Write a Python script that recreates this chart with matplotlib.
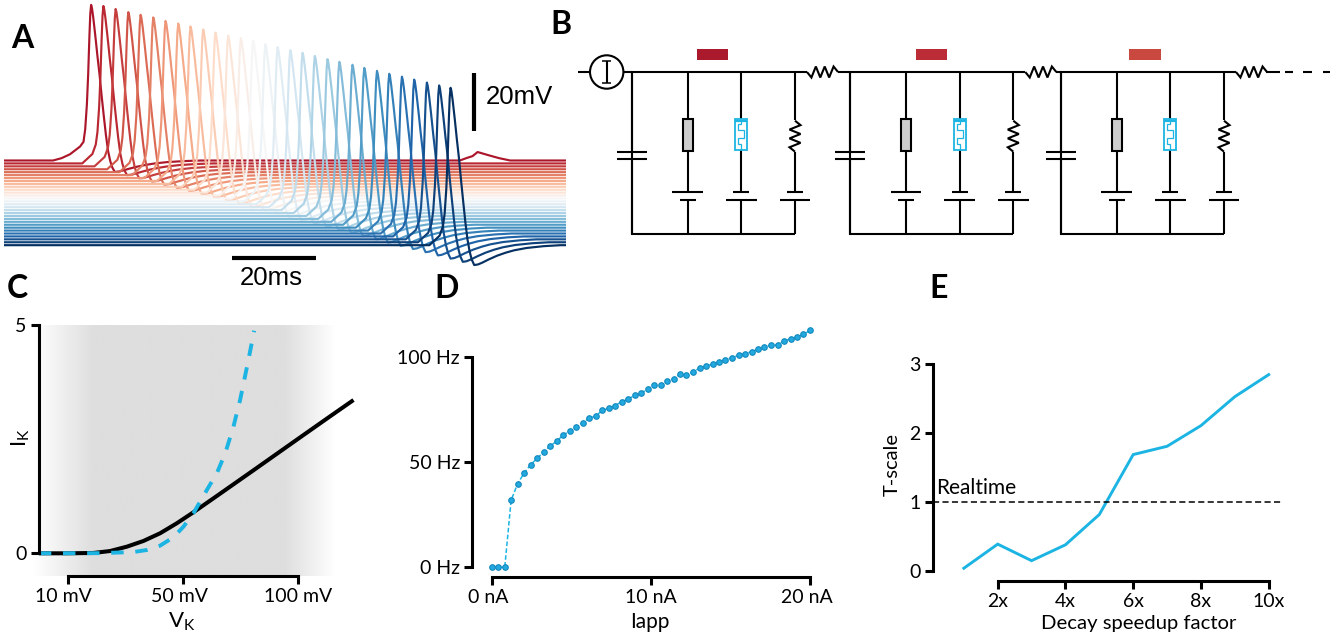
#!/usr/bin/env python3
"""Neuron model figure: spike raster traces, cable circuit, I-V, f-I and speedup panels."""

import numpy as np
import matplotlib
matplotlib.use("Agg")
import matplotlib.pyplot as plt
from matplotlib.colors import LinearSegmentedColormap
from matplotlib.patches import Circle, Rectangle
from matplotlib.transforms import ScaledTranslation

plt.rcParams['font.family'] = ['Lato', 'DejaVu Sans']
plt.rcParams['mathtext.default'] = 'regular'

W, H = 1333, 638
BLUE = '#1cb4e3'
T_END = 132.9

# Panel A: spike time (ms), peak (mV) and resting level (mV) of each trace
spike_times = [20.6, 23.5, 26.4, 29.4, 32.3, 35.3, 38.2, 41.2, 44.1, 47.1,
               50.0, 53.0, 56.0, 58.9, 61.8, 64.7, 67.7, 70.6, 73.5, 76.5,
               79.3, 82.4, 85.2, 88.2, 91.1, 94.1, 97.0, 100.0, 102.9, 105.6]
spike_peaks = [53.3, 52.9, 51.9, 50.8, 49.9, 49.0, 47.8, 46.9, 45.9, 44.9,
               43.8, 42.8, 41.9, 41.0, 39.8, 38.8, 37.8, 36.9, 35.8, 34.7,
               33.8, 32.8, 31.7, 30.7, 29.7, 28.7, 27.7, 26.7, 25.7, 24.9]
rest_levels = [0, -1, -2, -3, -4, -5, -6, -7, -8, -9,
               -10, -11, -12, -13, -14, -15, -16, -17, -18, -19,
               -20, -21, -22, -23, -24, -25, -26, -27, -28, -29]
ahp_depths = [3.9, 4.0, 4.1, 4.2, 4.3, 4.4, 4.5, 4.6, 4.7, 4.8,
              4.9, 5.0, 5.1, 5.2, 5.3, 5.4, 5.5, 5.6, 5.7, 5.8,
              5.9, 6.0, 6.1, 6.2, 6.3, 6.4, 6.5, 6.6, 6.7, 6.8]

# spike shape: time from peak, upstroke/downstroke, afterhyperpolarisation
shape_dt = [-9, -7, -5, -2.6, -1.8, -1.4, -1.0, -0.7, -0.4, -0.2, 0, 0.2, 0.5, 1, 1.5, 2,
            2.5, 3, 3.5, 4, 4.5, 5, 5.6, 6.5, 7.5, 9, 11, 13, 15, 18, 22, 26]
shape_spike = [0, 0, 0, 0.06, 0.12, 0.2, 0.36, 0.55, 0.8, 0.94, 1, 0.98, 0.92, 0.8, 0.67, 0.55,
               0.42, 0.3, 0.19, 0.1, 0.05, 0.02, 0, 0, 0, 0, 0, 0, 0, 0, 0, 0]
shape_ahp = [0, 0, 0, 0, 0, 0, 0, 0, 0, 0, 0, 0, 0, 0, 0, 0,
             0.1, 0.2, 0.35, 0.5, 0.7, 0.88, 1, 0.97, 0.88, 0.72, 0.53, 0.38, 0.26, 0.14, 0.05, 0]
slow_foot = [0, 0.015, 0.04, 0.03, 0, 0, 0, 0, 0, 0, 0, 0, 0, 0, 0, 0,
             0, 0, 0, 0, 0, 0, 0, 0, 0, 0, 0, 0, 0, 0, 0, 0]

# small second bump on the first trace
bump_times = [107.8, 109.5, 110.8, 112.0, 114.6, 117.1, 119.7]
bump_values = [0, 0.9, 1.5, 2.9, 1.8, 0.8, 0]

# Panel B
unit_x = [631.7, 850.0, 1060.7]
bar_x = [696.7, 916.0, 1129.3]
bar_colors = ['#ab1a2c', '#bb2c36', '#c9483f']

# Panel C
vk_ticks = [0, 1, 2]
vk_tick_labels = ['10 mV', '50 mV', '100 mV']
ik_ticks = [0, 5]
linear_x = [-0.25, -0.01, 0.222, 0.367, 0.512, 0.656, 0.80, 0.945, 1.089, 1.263, 1.436, 1.639,
            1.813, 2.015, 2.246, 2.477]
linear_y = [0, 0, 0.007, 0.05, 0.145, 0.27, 0.438, 0.657, 0.898, 1.204, 1.51, 1.87,
            2.18, 2.54, 2.95, 3.357]
steep_x = [-0.25, 0.28, 0.569, 0.685, 0.80, 0.916, 1.003, 1.089, 1.206, 1.292, 1.365, 1.436, 1.494,
           1.566, 1.616]
steep_y = [0, 0.003, 0.028, 0.072, 0.167, 0.35, 0.583, 0.876, 1.387, 1.75, 2.19, 2.77, 3.358,
           4.234, 4.875]

# Panel D
iapp = [0, 0.41, 0.82, 1.22, 1.63, 2.04, 2.45, 2.86, 3.27, 3.67,
        4.08, 4.49, 4.9, 5.31, 5.71, 6.12, 6.53, 6.94, 7.35, 7.76,
        8.16, 8.57, 8.98, 9.39, 9.8, 10.2, 10.61, 11.02, 11.43, 11.84,
        12.24, 12.65, 13.06, 13.47, 13.88, 14.29, 14.69, 15.1, 15.51, 15.92,
        16.33, 16.73, 17.14, 17.55, 17.96, 18.37, 18.78, 19.18, 19.59, 20]
rate = [0, 0, 0, 31.9, 39.8, 44.9, 48.9, 51.9, 54.9, 57.8,
        60, 63, 64.9, 66.8, 68.9, 70.9, 72, 74.7, 75.7, 77,
        78.9, 80, 81.9, 83, 84.8, 86.8, 86.8, 88.9, 89.8, 91.9,
        91.7, 92.9, 94.9, 95.7, 96.8, 97.9, 98.9, 99.8, 100.9, 101.8,
        102.6, 103.9, 105, 105.8, 105.8, 107.9, 108.7, 109.8, 110.9, 112.8]

# Panel E
speedup = [1, 2, 3, 4, 5, 6, 7, 8, 9, 10]
tscale = [0.04, 0.39, 0.15, 0.38, 0.82, 1.69, 1.81, 2.11, 2.53, 2.85]


def px_axes(fig, left, top, right, bottom):
    """Axes placed by pixel edges of the figure."""
    ax = fig.add_axes([left / W, 1 - bottom / H, (right - left) / W, (bottom - top) / H])
    ax.patch.set_alpha(0)
    return ax


def style_axis(ax, y_bounds, x_bounds, lw=2.2, length=5.8):
    ax.spines['top'].set_visible(False)
    ax.spines['right'].set_visible(False)
    ax.spines['left'].set_linewidth(lw)
    ax.spines['bottom'].set_linewidth(lw)
    ax.spines['left'].set_bounds(*y_bounds)
    ax.spines['bottom'].set_bounds(*x_bounds)
    ax.tick_params(width=lw, length=length, labelsize=14, pad=3)


def shift_labels(labels, dx_px):
    """Nudge tick labels sideways, the originals are not quite centred on the ticks."""
    for label, dx in zip(labels, dx_px):
        label.set_transform(label.get_transform() + ScaledTranslation(dx / 100, 0, plt.gcf().dpi_scale_trans))


def draw_traces(ax):
    colors = plt.cm.RdBu(np.linspace(0.09, 1, len(spike_times)))
    dt = np.array(shape_dt)
    spike = np.array(shape_spike)
    ahp = np.array(shape_ahp)
    foot = np.array(slow_foot)
    for i, t0 in enumerate(spike_times):
        base = rest_levels[i]
        amp = spike_peaks[i] - base
        shape = spike + foot if i == 0 else spike
        v = base + amp * shape - ahp_depths[i] * ahp
        t = np.concatenate([[0], t0 + dt, [T_END]])
        v = np.concatenate([[base], v, [base]])
        if i == 0:
            t = np.concatenate([t[:-1], bump_times, [T_END]])
            v = np.concatenate([v[:-1], np.array(bump_values) + base, [base]])
        ax.plot(t, v, color=colors[i], lw=1.55, solid_joinstyle='round')

    # scale bars
    ax.plot([53.8, 73.8], [-33.5, -33.5], color='k', lw=3, solid_capstyle='butt')
    ax.plot([111.1, 111.1], [10, 30], color='k', lw=3, solid_capstyle='butt')


def wire(ax, xs, ys, color='k', lw=1.5, **kwargs):
    ax.plot(xs, ys, color=color, lw=lw, solid_capstyle='butt', solid_joinstyle='miter', **kwargs)


def h_resistor(ax, x0, y):
    step = 31 / 7
    xs = [x0 + k * step for k in range(8)]
    ys = [y, y + 5.5, y - 5.5, y + 5.5, y - 5.5, y + 5.5, y - 5.5, y]
    wire(ax, xs, ys)


def draw_unit(ax, x0, offsets=(56.0, 109.6, 163.3)):
    """One compartment of the cable: capacitor and three conductance branches."""
    top, bottom = 72, 234.3
    gray_x, blue_x, res_x = x0 + offsets[0], x0 + offsets[1], x0 + offsets[2]
    wire(ax, [res_x, x0, x0, res_x, res_x], [top, top, bottom, bottom, bottom])

    # capacitor
    wire(ax, [x0, x0], [top, 151.7])
    wire(ax, [x0, x0], [159.3, bottom])
    wire(ax, [x0 - 15, x0 + 15], [151.7, 151.7])
    wire(ax, [x0 - 15, x0 + 15], [159.3, 159.3])

    # branches and their batteries
    for x, long_first in [(gray_x, True), (blue_x, False), (res_x, False)]:
        wire(ax, [x, x], [top, 192.3])
        wire(ax, [x, x], [200.3, bottom])
        hw_top, hw_bot = (15.3, 8) if long_first else (8, 15.3)
        wire(ax, [x - hw_top, x + hw_top], [192.3, 192.3])
        wire(ax, [x - hw_bot, x + hw_bot], [200.3, 200.3])

    ax.add_patch(Rectangle((gray_x - 5.2, 119.3), 10.4, 31.4, facecolor='#cdcdcd', edgecolor='k', lw=1.5, zorder=3))

    ax.add_patch(Rectangle((blue_x - 6, 119.3), 12, 31, facecolor='white', edgecolor=BLUE, lw=1.3, zorder=3))
    wire(ax, [blue_x - 6, blue_x + 6], [120.5, 120.5], color=BLUE, lw=1.6, zorder=4)
    wire(ax, [blue_x, blue_x, blue_x - 3, blue_x - 3, blue_x + 3, blue_x + 3, blue_x - 3, blue_x - 3, blue_x, blue_x],
         [120, 124, 124, 130, 130, 138, 138, 144, 144, 150], color=BLUE, lw=0.9, zorder=4)

    ax.add_patch(Rectangle((res_x - 7, 120), 14, 32, facecolor='white', edgecolor='none', zorder=3))
    ys = [120.7 + k * 31 / 7 for k in range(8)]
    xs = [res_x, res_x + 5.5, res_x - 5.5, res_x + 5.5, res_x - 5.5, res_x + 5.5, res_x - 5.5, res_x]
    wire(ax, xs, ys, zorder=4)


def draw_circuit(ax):
    y = 72
    # current source
    wire(ax, [578, 590], [y, y])
    ax.add_patch(Circle((606.7, y), 16.7, facecolor='white', edgecolor='k', lw=1.5, zorder=3))
    wire(ax, [606.7, 606.7], [61, 83], zorder=4)
    wire(ax, [602, 611.4], [61, 61], lw=1.1, zorder=4)
    wire(ax, [602, 611.4], [83, 83], lw=1.1, zorder=4)
    wire(ax, [623.4, 631.7], [y, y])

    for x0, bx, color in zip(unit_x, bar_x, bar_colors):
        draw_unit(ax, x0)
        ax.add_patch(Rectangle((bx, 49.3), 31.3, 10.4, facecolor=color, edgecolor='none'))
        res_x = x0 + 163.3
        wire(ax, [res_x, res_x + 12], [y, y])
        h_resistor(ax, res_x + 12, y)

    # links between compartments and the open end
    wire(ax, [838, 850], [y, y])
    wire(ax, [1056, 1060.7], [y, y])
    wire(ax, [1266, 1280], [y, y])
    for a, b in [(1285, 1293), (1303, 1312), (1323, 1330)]:
        wire(ax, [a, b], [y, y])


def main():
    fig = plt.figure(figsize=(W / 100, H / 100), dpi=100)

    # overlay in pixel coordinates for the schematic and free text
    over = fig.add_axes([0, 0, 1, 1])
    over.set_xlim(0, W)
    over.set_ylim(H, 0)
    over.axis('off')

    for letter, x, y in [('A', 22, 38), ('B', 561, 25), ('C', 17, 289), ('D', 447, 288), ('E', 939, 288)]:
        over.text(x, y, letter, fontsize=23, fontweight='bold', ha='center', va='center', family='Lato')

    # A
    ax_a = px_axes(fig, 4, 0, 566, 270)
    ax_a.set_xlim(0, T_END)
    ax_a.set_ylim(-37.5, 54.97)
    ax_a.axis('off')
    draw_traces(ax_a)
    over.text(271, 278, '20ms', fontsize=18.5, ha='center', va='center', family='Liberation Sans')
    over.text(519, 97, '20mV', fontsize=18.5, ha='center', va='center', family='Liberation Sans')

    # B
    draw_circuit(over)

    # C
    ax_c = px_axes(fig, 39, 325, 355, 576)
    shade = LinearSegmentedColormap.from_list(
        'shade', [(0, '#ffffff'), (0.2, '#dedede'), (0.83, '#dedede'), (1, '#ffffff')])
    ax_c.imshow(np.linspace(0, 1, 512)[None, :], cmap=shade, aspect='auto', extent=(-0.301, 2.32, -0.497, 5),
                clip_on=False, zorder=0)
    ax_c.set_xlim(-0.249, 2.49)
    ax_c.set_ylim(-0.497, 5)
    ax_c.plot(linear_x, linear_y, color='k', lw=2.9, solid_capstyle='butt', clip_on=False)
    ax_c.plot(steep_x, steep_y, color=BLUE, lw=2.8, dashes=(3.2, 3.0), clip_on=False)
    style_axis(ax_c, (0, 5), (0, 2))
    ax_c.set_xticks(vk_ticks, vk_tick_labels)
    ax_c.set_yticks(ik_ticks)
    shift_labels(ax_c.get_xticklabels(), [-4, -4, 0])
    over.text(182, 622, r'$V_K$', fontsize=16, ha='center', va='center')
    over.text(21, 438, r'$I_K$', fontsize=16, ha='center', va='center', rotation=90)

    # D
    ax_d = px_axes(fig, 472.3, 357.3, 830, 576.7)
    px_per_hz = (567.3 - 357.3) / 100
    px_per_na = (810 - 491.7) / 20
    ax_d.set_ylim(-(576.7 - 567.3) / px_per_hz, 100)
    ax_d.set_xlim(-(491.7 - 472.3) / px_per_na, (830 - 491.7) / px_per_na)
    ax_d.plot(iapp, rate, color=BLUE, lw=1.1, ls=(0, (3, 1.5)), marker='o', ms=4.0, mfc='#22a9e0', mec='#1488bd',
              mew=0.8, clip_on=False)
    style_axis(ax_d, (0, 100), (0, 20))
    ax_d.set_xticks([0, 10, 20], ['0 nA', '10 nA', '20 nA'])
    ax_d.set_yticks([0, 50, 100], ['0 Hz', '50 Hz', '100 Hz'])
    shift_labels(ax_d.get_xticklabels(), [-3, 0, -3])
    over.text(650, 622, 'Iapp', fontsize=15, ha='center', va='center')

    # E
    ax_e = px_axes(fig, 932.7, 364.3, 1290, 580.7)
    px_per_unit = (571 - 364.3) / 3
    px_per_x = (1268.7 - 997.7) / 8
    ax_e.set_ylim(-(580.7 - 571) / px_per_unit, 3)
    ax_e.set_xlim(2 - (997.7 - 932.7) / px_per_x, 2 + (1290 - 997.7) / px_per_x)
    ax_e.plot(speedup, tscale, color=BLUE, lw=2.1, solid_joinstyle='miter')
    ax_e.axhline(1, xmax=(1283 - 932.7) / (1290 - 932.7), color='k', lw=1.1, ls=(0, (4, 2.2)))
    style_axis(ax_e, (0, 3), (2, 10))
    ax_e.set_xticks([2, 4, 6, 8, 10], ['2x', '4x', '6x', '8x', '10x'])
    ax_e.set_yticks([0, 1, 2, 3])
    over.text(976, 487.5, 'Realtime', fontsize=15, ha='center', va='center')
    over.text(1139, 623, 'Decay speedup factor', fontsize=14.6, ha='center', va='center')
    over.text(892, 465, 'T-scale', fontsize=14.5, ha='center', va='center', rotation=90)

    fig.savefig('out.png', dpi=100)


if __name__ == "__main__":
    main()
